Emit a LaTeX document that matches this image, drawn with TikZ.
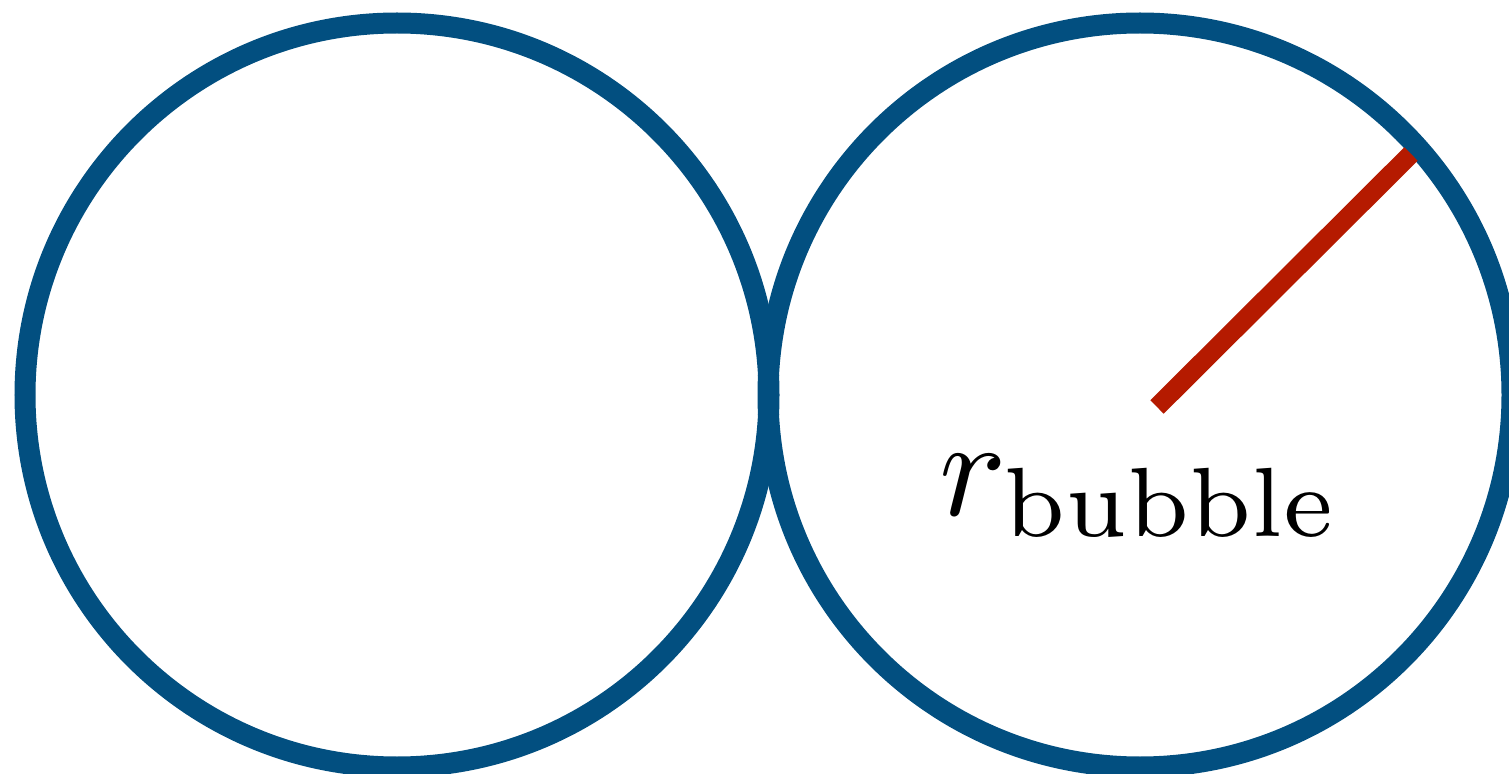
\documentclass[tikz,border=0pt]{standalone}
\usepackage{amsmath}
\usetikzlibrary{positioning}
\definecolor{blase}{HTML}{024F80}
\definecolor{radius}{HTML}{B51A00}

\tikzset{
  bubble/.style={circle, draw=blase, line width=0.21cm, minimum size=7.44cm, inner sep=0pt},
  radline/.style={draw=radius, line width=0.19cm}
}

\begin{document}
\begin{tikzpicture}
      \useasboundingbox (0,0) rectangle (15.09,7.73);
      \clip (0,0) rectangle (15.09,7.73);

      % Blasen
      \node[bubble] (links)  at (3.97,3.78)  {};
      \node[bubble] (rechts) at (11.40,3.78) {};

      % Radius
      \coordinate (rstart) at (11.57,3.66);
      \coordinate (rend)   at (14.11,6.19);
      \draw[radline] (rstart) -- (rend);

      % Beschriftung
      \node[scale=4, below=0.1cm of rechts.center] (rlabel) {$r_{\text{bubble}}$};
    \end{tikzpicture}
\end{document}
